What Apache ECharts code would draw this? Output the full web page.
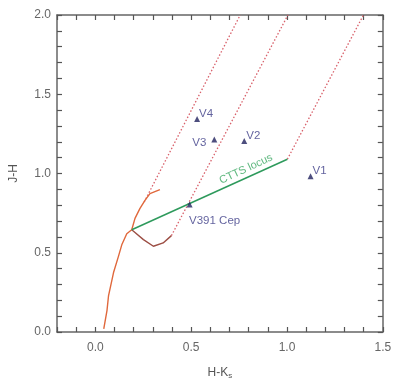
<!DOCTYPE html>
<html>
<head>
<meta charset="utf-8">
<script src="https://cdn.jsdelivr.net/npm/echarts@6/dist/echarts.min.js"></script>
<style>
  html, body { margin: 0; padding: 0; background: #fff; }
  #chart { width: 396px; height: 385px; }
</style>
</head>
<body>
<div id="chart"></div>
<script>
// Axis tick labels (shown every 0.5, ticks every 0.1)
const xTickLabels = ['0.0', '0.5', '1.0', '1.5'];
const yTickLabels = ['0.0', '0.5', '1.0', '1.5', '2.0'];

// Dwarf intrinsic colour locus (H-Ks, J-H)
const dwarfHK = [0.044, 0.061, 0.069, 0.095, 0.121, 0.138, 0.164, 0.19, 0.207, 0.233, 0.259, 0.285, 0.337];
const dwarfJH = [0.02, 0.137, 0.23, 0.375, 0.479, 0.55, 0.62, 0.645, 0.717, 0.78, 0.83, 0.873, 0.898];

// Giant branch
const giantHK = [0.19, 0.207, 0.251, 0.303, 0.354, 0.397];
const giantJH = [0.645, 0.628, 0.583, 0.541, 0.562, 0.608];

// CTTS locus end points
const cttsHK = [0.19, 1.002];
const cttsJH = [0.645, 1.09];

// Reddening vectors (start, end)
const redden1HK = [0.255, 0.756];
const redden1JH = [0.82, 2.0];
const redden2HK = [0.397, 1.005];
const redden2JH = [0.608, 2.0];
const redden3HK = [1.002, 1.399];
const redden3JH = [1.09, 2.0];

// Observed sources
const starNames = ['V1', 'V2', 'V3', 'V4', 'V391 Cep'];
const starHK = [1.123, 0.777, 0.621, 0.531, 0.492];
const starJH = [0.983, 1.205, 1.215, 1.344, 0.804];

const zip = (a, b) => a.map((v, i) => [v, b[i]]);

const labelColor = '#3b3b86';
const starLabelPos = {
  'V1': { position: 'right', distance: 1, offset: [-2, -5] },
  'V2': { position: 'right', distance: 1, offset: [-2, -5] },
  'V3': { position: 'left', distance: 5, offset: [0, 3] },
  'V4': { position: 'right', distance: 1, offset: [-2, -5] },
  'V391 Cep': { position: 'bottom', distance: 4, offset: [25, 3] }
};

const tickFmt = (labels) => (v) => {
  const k = Math.round(v * 2);
  if (Math.abs(v * 2 - k) < 1e-6 && k >= 0) return labels[k] || '';
  return '';
};

const axisLineStyle = () => ({ color: '#666', width: 1.5 });
const tickStyle = () => ({ show: true, inside: true, length: 5, lineStyle: { color: '#555', width: 1.2 } });

const chart = echarts.init(document.getElementById('chart'), null, { renderer: 'canvas' });

const redLine = (hk, jh) => ({
  type: 'line', data: zip(hk, jh), symbol: 'none', silent: true,
  lineStyle: { color: '#d8606a', width: 1.3, type: [1.5, 2] }, z: 2
});

chart.setOption({
  animation: false,
  grid: { left: 54.7, right: 13.2, top: 15, bottom: 48, containLabel: false },
  xAxis: [{
    type: 'value', min: -0.2, max: 1.5, interval: 0.1,
    name: '{a|H-K}{s|s}', nameLocation: 'middle', nameGap: 34,
    nameTextStyle: {
      rich: {
        a: { fontFamily: 'Liberation Sans', fontSize: 12, color: '#555' },
        s: { fontFamily: 'Liberation Sans', fontSize: 8, color: '#555', verticalAlign: 'bottom', padding: [6, 0, 0, 0] }
      }
    },
    axisLine: { show: true, onZero: false, lineStyle: axisLineStyle() },
    axisTick: tickStyle(),
    splitLine: { show: false },
    axisLabel: { formatter: tickFmt(xTickLabels), color: '#666', fontSize: 12, fontFamily: 'Liberation Sans', margin: 10 }
  }, {
    type: 'value', position: 'top', min: -0.2, max: 1.5, interval: 0.1,
    axisLine: { show: true, onZero: false, lineStyle: axisLineStyle() },
    axisTick: tickStyle(), axisLabel: { show: false }, splitLine: { show: false }
  }],
  yAxis: [{
    type: 'value', min: 0, max: 2.0, interval: 0.1,
    name: 'J-H', nameLocation: 'middle', nameGap: 37, nameRotate: 90,
    nameTextStyle: { fontFamily: 'Liberation Sans', fontSize: 12, color: '#555' },
    axisLine: { show: true, onZero: false, lineStyle: axisLineStyle() },
    axisTick: tickStyle(),
    splitLine: { show: false },
    axisLabel: { formatter: tickFmt(yTickLabels), color: '#666', fontSize: 12, fontFamily: 'Liberation Sans', margin: 6 }
  }, {
    type: 'value', position: 'right', min: 0, max: 2.0, interval: 0.1,
    axisLine: { show: true, onZero: false, lineStyle: axisLineStyle() },
    axisTick: tickStyle(), axisLabel: { show: false }, splitLine: { show: false }
  }],
  series: [
    redLine(redden1HK, redden1JH),
    redLine(redden2HK, redden2JH),
    redLine(redden3HK, redden3JH),
    {
      type: 'line', data: zip(dwarfHK, dwarfJH), symbol: 'none', silent: true,
      lineStyle: { color: '#e0683c', width: 1.4 }, z: 3
    },
    {
      type: 'line', data: zip(giantHK, giantJH), symbol: 'none', silent: true,
      lineStyle: { color: '#9c4e44', width: 1.4 }, z: 3
    },
    {
      type: 'line', data: zip(cttsHK, cttsJH), symbol: 'none', silent: true,
      lineStyle: { color: '#2e9a5c', width: 1.5 }, z: 3
    },
    {
      // CTTS locus caption along the line
      type: 'scatter', symbolSize: 0, silent: true,
      data: [[0.786, 1.028]],
      label: {
        show: true, position: 'inside', rotate: 25, formatter: 'CTTS locus',
        color: '#3aa862', fontSize: 11, fontFamily: 'Liberation Sans'
      }, z: 4
    },
    {
      type: 'scatter', symbol: 'triangle', symbolSize: 6,
      itemStyle: { color: '#20225e' },
      data: starNames.map((n, i) => ({
        value: [starHK[i], starJH[i]], name: n,
        label: Object.assign({ show: true, formatter: n, color: labelColor, fontSize: 11.5, fontFamily: 'Liberation Sans' }, starLabelPos[n])
      })),
      z: 5
    }
  ]
});
</script>
</body>
</html>
